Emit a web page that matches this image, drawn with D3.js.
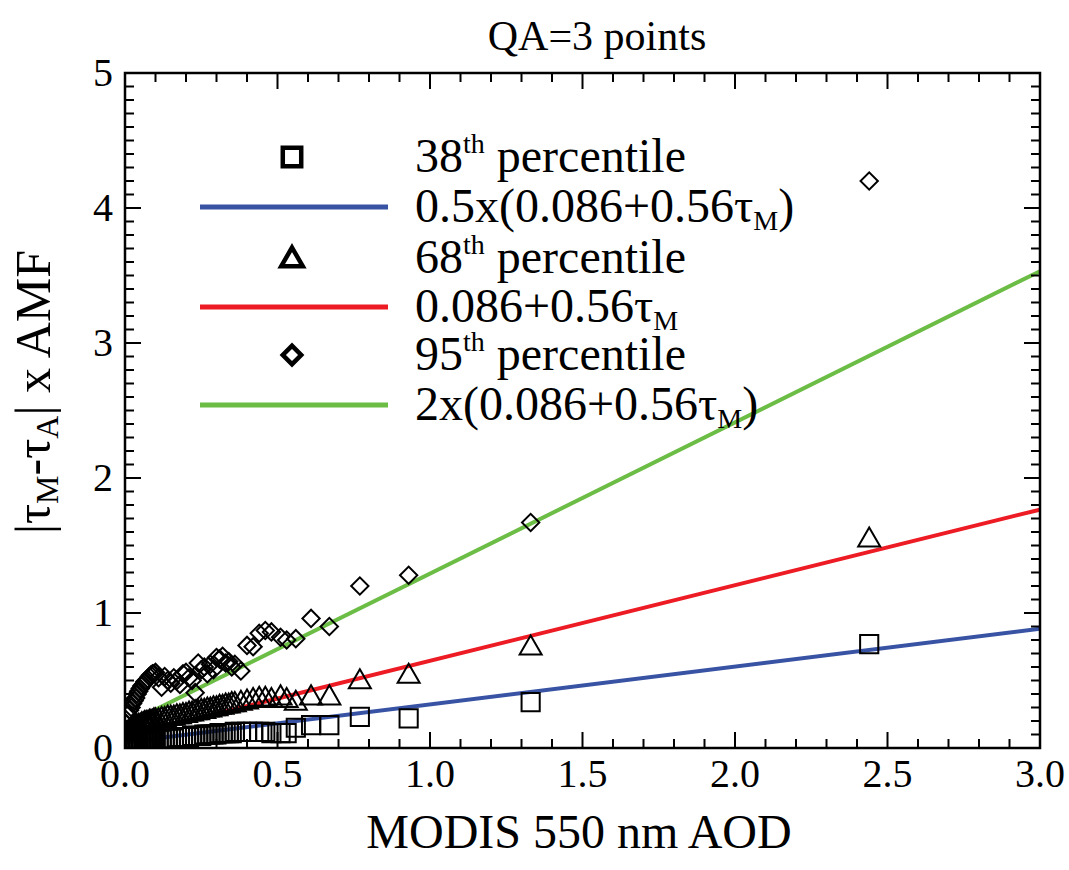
<!DOCTYPE html>
<html><head><meta charset="utf-8">
<script src="https://cdn.jsdelivr.net/npm/d3@7"></script>
<style>body{margin:0;background:#fff}svg{display:block}text{font-family:"Liberation Serif","Times New Roman",serif;fill:#000}</style>
</head><body><svg id="c" width="1069" height="870"></svg>
<script>
// ---- data ----
const aod = [0.005,0.01,0.015,0.02,0.025,0.03,0.035,0.04,0.045,0.05,0.055,0.06,0.065,0.07,0.075,0.08,0.085,0.09,0.095,0.10,
  0.11,0.12,0.13,0.14,0.15,0.16,0.17,0.18,0.19,0.20,
  0.21,0.22,0.23,0.24,0.25,0.26,0.27,0.28,0.29,0.30,
  0.31,0.32,0.33,0.34,0.35,0.36,
  0.38,0.40,0.42,0.44,0.46,0.48,
  0.51,0.53,0.56,0.61,0.67,0.77,0.93,1.33,2.44];
const p38 = [0.01,0.02,0.02,0.02,0.03,0.03,0.03,0.03,0.04,0.04,0.04,0.04,0.05,0.05,0.05,0.05,0.05,0.06,0.06,0.06,
  0.06,0.06,0.07,0.07,0.07,0.07,0.08,0.08,0.08,0.08,
  0.08,0.09,0.09,0.09,0.09,0.10,0.10,0.10,0.10,0.10,
  0.11,0.11,0.11,0.11,0.11,0.12,
  0.12,0.12,0.12,0.12,0.12,0.11,
  0.11,0.11,0.15,0.17,0.17,0.23,0.22,0.34,0.77];
const p68 = [0.10,0.11,0.12,0.13,0.13,0.14,0.15,0.15,0.16,0.16,0.17,0.17,0.18,0.18,0.18,0.19,0.19,0.19,0.20,0.20,
  0.20,0.21,0.21,0.22,0.22,0.22,0.23,0.23,0.24,0.24,
  0.25,0.25,0.26,0.26,0.27,0.27,0.28,0.28,0.29,0.29,
  0.30,0.30,0.31,0.31,0.32,0.32,
  0.33,0.34,0.35,0.36,0.36,0.35,
  0.37,0.35,0.33,0.37,0.37,0.49,0.53,0.74,1.54];
const p95 = [0.18,0.25,0.28,0.30,0.33,0.35,0.37,0.40,0.42,0.44,0.46,0.47,0.49,0.50,0.51,0.53,0.54,0.55,0.55,0.56,
  0.52,0.45,0.53,0.50,0.48,0.52,0.50,0.47,0.55,0.56,
  0.52,0.50,0.41,0.63,0.58,0.60,0.55,0.62,0.58,0.67,
  0.66,0.68,0.63,0.64,0.60,0.62,
  0.57,0.76,0.75,0.85,0.87,0.86,
  0.82,0.80,0.81,0.96,0.90,1.20,1.28,1.67,4.20];
const fitA = 0.086, fitB = 0.56;           // 0.086 + 0.56 tau_M
const fitFactors = [0.5, 1, 2];
const fitColors = ["#3953a4", "#ed1c24", "#6cbd45"];
const xTicks = [0.0,0.5,1.0,1.5,2.0,2.5,3.0];
const yTicks = [0,1,2,3,4,5];
const xDomain = [0,3], yDomain = [0,5];

// ---- layout ----
const svg = d3.select("#c");
const L=125, R=1040, T=73, B=748;
const x = d3.scaleLinear().domain(xDomain).range([L,R]);
const y = d3.scaleLinear().domain(yDomain).range([B,T]);

svg.append("defs").append("clipPath").attr("id","clip")
  .append("rect").attr("x",L).attr("y",T).attr("width",R-L).attr("height",B-T);
const plot = svg.append("g").attr("clip-path","url(#clip)");

// fit lines
fitFactors.forEach((f,i)=>{
  plot.append("line")
    .attr("x1",x(xDomain[0])).attr("y1",y(f*(fitA+fitB*xDomain[0])))
    .attr("x2",x(xDomain[1])).attr("y2",y(f*(fitA+fitB*xDomain[1])))
    .attr("stroke",fitColors[i]).attr("stroke-width",4);
});

// markers
function drawPts(vals, type, size, rot){
  plot.append("g").selectAll("path").data(aod).join("path")
    .attr("transform",(d,i)=>`translate(${x(d)},${y(vals[i])}) rotate(${rot})`)
    .attr("d", d3.symbol().type(type).size(size)).attr("fill","none").attr("stroke","#000").attr("stroke-width",2);
}
drawPts(p38, d3.symbolSquare, 330, 0);
drawPts(p68, d3.symbolTriangle, 210, 0);
drawPts(p95, d3.symbolSquare, 150, 45);

// axes frame
const ax = svg.append("g");
ax.append("rect").attr("x",L).attr("y",T).attr("width",R-L).attr("height",B-T)
  .attr("fill","none").attr("stroke","#000").attr("stroke-width",2.5);

const xMinor = d3.range(0,3.0001,0.1);
const yMinor = d3.range(0,5.0001,0.1);
xMinor.forEach(v=>{
  const major = Math.abs(v*2-Math.round(v*2))<1e-6;
  const len = major?16:9;
  ax.append("line").attr("x1",x(v)).attr("x2",x(v)).attr("y1",B).attr("y2",B-len).attr("stroke","#000").attr("stroke-width",2);
  ax.append("line").attr("x1",x(v)).attr("x2",x(v)).attr("y1",T).attr("y2",T+len).attr("stroke","#000").attr("stroke-width",2);
});
yMinor.forEach(v=>{
  const major = Math.abs(v-Math.round(v))<1e-6;
  const len = major?16:9;
  ax.append("line").attr("y1",y(v)).attr("y2",y(v)).attr("x1",L).attr("x2",L+len).attr("stroke","#000").attr("stroke-width",2);
  ax.append("line").attr("y1",y(v)).attr("y2",y(v)).attr("x1",R).attr("x2",R-len).attr("stroke","#000").attr("stroke-width",2);
});
xTicks.forEach(v=>{
  ax.append("text").attr("x",x(v)).attr("y",B+39).attr("text-anchor","middle")
    .attr("font-size",40).text(v.toFixed(1));
});
yTicks.forEach(v=>{
  ax.append("text").attr("x",L-12).attr("y",y(v)+13).attr("text-anchor","end")
    .attr("font-size",40).text(v);
});

// title & labels
svg.append("text").attr("x",597).attr("y",50).attr("text-anchor","middle").attr("font-size",42).text("QA=3 points");
svg.append("text").attr("x",579).attr("y",848).attr("text-anchor","middle").attr("font-size",48).text("MODIS 550 nm AOD");
const yl = svg.append("text").attr("transform","translate(50,392) rotate(-90)").attr("text-anchor","middle").attr("font-size",50);
yl.append("tspan").text("|τ");
yl.append("tspan").attr("font-size",32).attr("dy",8).text("M");
yl.append("tspan").attr("dy",-8).text("-τ");
yl.append("tspan").attr("font-size",32).attr("dy",8).text("A");
yl.append("tspan").attr("dy",-8).text("| x AMF");

// legend
const lg = svg.append("g");
const rows = [157,207,258,307,355,405];
const lx1=200, lx2=388, mx=292, tx=415, fs=48;
function lab(yy, parts){
  const t = lg.append("text").attr("x",tx).attr("y",yy+15).attr("font-size",fs);
  parts.forEach(p=>{
    const s=t.append("tspan").text(p[0]);
    if(p[1]==="sup") s.attr("font-size",28).attr("dy",-19);
    else if(p[1]==="sub") s.attr("font-size",28).attr("dy",8);
    else if(p[1]==="supback") s.attr("dy",19);
    else if(p[1]==="subback") s.attr("dy",-8);
  });
}
lg.append("path").attr("transform",`translate(${mx},${rows[0]})`).attr("d",d3.symbol().type(d3.symbolSquare).size(340)()).attr("fill","none").attr("stroke","#000").attr("stroke-width",4.5);
lg.append("path").attr("transform",`translate(${mx},${rows[2]+2})`).attr("d",d3.symbol().type(d3.symbolTriangle).size(200)()).attr("fill","none").attr("stroke","#000").attr("stroke-width",4.5);
lg.append("path").attr("transform",`translate(${mx},${rows[4]}) rotate(45)`).attr("d",d3.symbol().type(d3.symbolSquare).size(170)()).attr("fill","none").attr("stroke","#000").attr("stroke-width",4.5);
[1,3,5].forEach((r,i)=>{
  lg.append("line").attr("x1",lx1).attr("x2",lx2).attr("y1",rows[r]).attr("y2",rows[r]).attr("stroke",fitColors[i]).attr("stroke-width",5);
});
lab(rows[0],[["38"],["th","sup"],[" percentile","supback"]]);
lab(rows[1],[["0.5x(0.086+0.56τ"],["M","sub"],[")","subback"]]);
lab(rows[2],[["68"],["th","sup"],[" percentile","supback"]]);
lab(rows[3],[["0.086+0.56τ"],["M","sub"]]);
lab(rows[4],[["95"],["th","sup"],[" percentile","supback"]]);
lab(rows[5],[["2x(0.086+0.56τ"],["M","sub"],[")","subback"]]);
</script></body></html>
